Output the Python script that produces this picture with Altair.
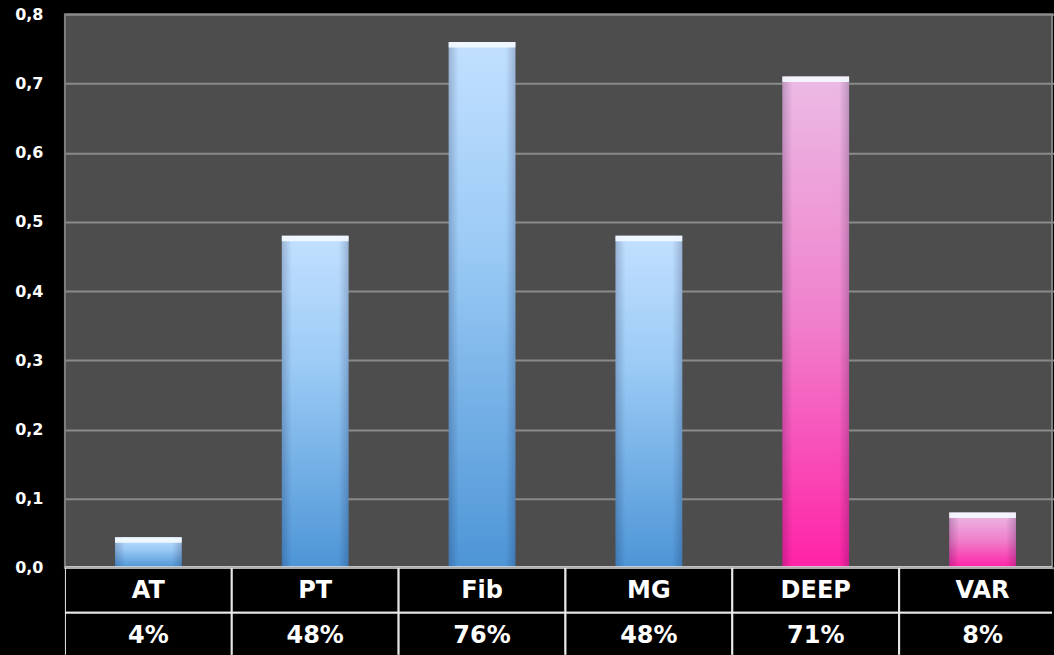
import altair as alt
import pandas as pd

categories = ["AT", "PT", "Fib", "MG", "DEEP", "VAR"]
values = [0.044, 0.48, 0.76, 0.48, 0.71, 0.08]
percent_labels = ["4%", "48%", "76%", "48%", "71%", "8%"]
groups = ["blue", "blue", "blue", "blue", "pink", "pink"]
y_ticks = [0.0, 0.1, 0.2, 0.3, 0.4, 0.5, 0.6, 0.7, 0.8]

df = pd.DataFrame({"cat": categories, "val": values, "grp": groups})

rows = []
for c, p in zip(categories, percent_labels):
    rows.append({"cat": c, "row": "r1", "txt": c})
    rows.append({"cat": c, "row": "r2", "txt": p})
table_df = pd.DataFrame(rows)

FONT = "DejaVu Sans"

blue_grad = alt.Gradient(
    gradient="linear", x1=0, x2=0, y1=0, y2=1,
    stops=[alt.GradientStop(color="#c2e0ff", offset=0),
           alt.GradientStop(color="#9acaf5", offset=0.4),
           alt.GradientStop(color="#4d95d6", offset=1)])
pink_grad = alt.Gradient(
    gradient="linear", x1=0, x2=0, y1=0, y2=1,
    stops=[alt.GradientStop(color="#ebbbe4", offset=0),
           alt.GradientStop(color="#f080cc", offset=0.5),
           alt.GradientStop(color="#ff22a6", offset=1)])
side_shade = alt.Gradient(
    gradient="linear", x1=0, x2=1, y1=0, y2=0,
    stops=[alt.GradientStop(color="rgba(0,0,40,0.2)", offset=0),
           alt.GradientStop(color="rgba(0,0,40,0)", offset=0.15),
           alt.GradientStop(color="rgba(0,0,40,0)", offset=0.85),
           alt.GradientStop(color="rgba(0,0,40,0.2)", offset=1)])

W = 988          # visible plot width (the table continues past the right edge)
FULL_W = 1002    # width covered by the six columns

x_top = alt.X("cat:N", sort=categories,
              scale=alt.Scale(paddingInner=0.6, paddingOuter=0.3, range=[0, FULL_W]),
              axis=None)
y_top = alt.Y("val:Q", scale=alt.Scale(domain=[0, 0.8], nice=False),
              axis=alt.Axis(values=y_ticks,
                            labelExpr="replace(format(datum.value,'.1f'),'.',',')",
                            title=None, domain=False, ticks=False, labelPadding=22,
                            grid=True, gridColor="#8a8a8a", gridWidth=2,
                            labelColor="white", labelFont=FONT, labelFontSize=16,
                            labelFontWeight="bold"))

base = alt.Chart(df).encode(x=x_top, y=y_top)

blue_bars = base.transform_filter("datum.grp == 'blue'").mark_bar(fill=blue_grad)
pink_bars = base.transform_filter("datum.grp == 'pink'").mark_bar(fill=pink_grad)
shade = base.mark_bar(fill=side_shade)
bevel = base.transform_calculate(vtop="datum.val - 0.008").mark_bar(
    color="#f4faff", opacity=0.92).encode(y2="vtop:Q")
zero_rule = alt.Chart(df).mark_rule(color="#dcdcdc", strokeWidth=2).encode(
    y=alt.datum(0))

top = alt.layer(blue_bars, pink_bars, shade, bevel, zero_rule).properties(
    width=W, height=554,
    view=alt.ViewBackground(fill="#4d4d4d", stroke="#7e7e7e", strokeWidth=2))

x_bot = alt.X("cat:N", sort=categories,
              scale=alt.Scale(paddingInner=0, paddingOuter=0, range=[0, FULL_W]),
              axis=None)
y_bot = alt.Y("row:N", sort=["r1", "r2"],
              scale=alt.Scale(paddingInner=0, paddingOuter=0, range=[0, 90]),
              axis=None)

cells = alt.Chart(table_df).mark_rect(fill="black", stroke="#e8e8e8", strokeWidth=2,
                                      clip=True).encode(x=x_bot, y=y_bot)
texts = alt.Chart(table_df).mark_text(color="white", font=FONT, fontSize=24,
                                      fontWeight="bold", baseline="middle", dy=1).encode(
    x=x_bot, y=y_bot, text="txt:N")

bottom = alt.layer(cells, texts).properties(
    width=W, height=87,
    view=alt.ViewBackground(fill="black", stroke="black", strokeWidth=0))

chart = alt.vconcat(top, bottom, spacing=0, bounds="flush").properties(
    background="black",
    padding={"left": 13, "top": 5, "right": 0, "bottom": 0})

chart.save("out.html", embed_options={"renderer": "svg", "actions": False})
